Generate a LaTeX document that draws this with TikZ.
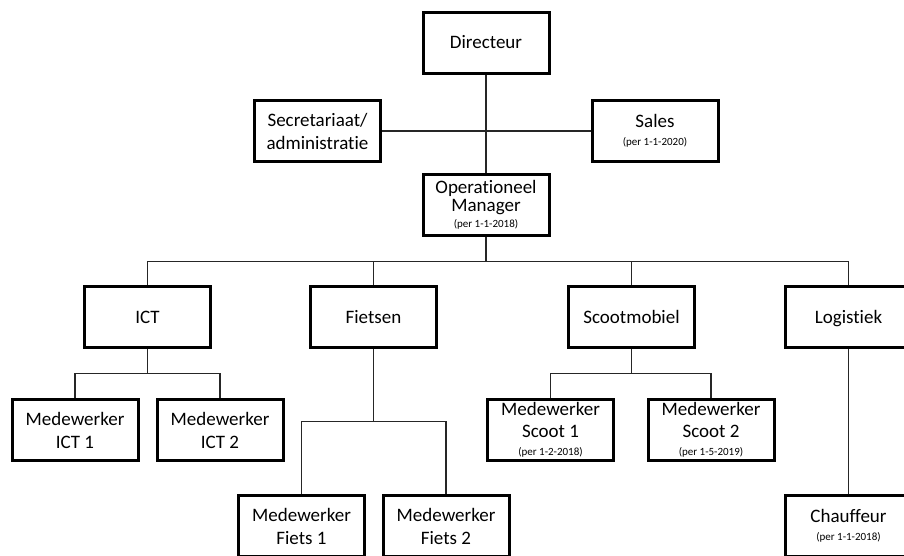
\documentclass[tikz,border=0pt]{standalone}
\usepackage{fontspec}
\setmainfont[Ligatures={NoCommon}]{Carlito}
\tikzstyle{unit}=[draw,line width=3pt,minimum width=126pt,minimum height=61pt,inner sep=0pt,align=center,font=\fontsize{19}{23}\selectfont]
\tikzstyle{connector}=[line width=1.2pt,black!85]
\newcommand{\since}[2][-5pt]{\\[#1]{\fontsize{11}{12}\selectfont (per #2)}} % start date under a function
\newcommand{\subtree}[4]{ % parent, drop to the bus, left child, right child
\draw[connector] (#1.south) -- ++(0,#2) coordinate (#1bus);
\draw[connector] (#3.north) |- (#1bus) -| (#4.north);
}
\begin{document}
\begin{tikzpicture}[x=1pt,y=-1pt]
	\useasboundingbox (0,0) rectangle (904,555);
	\clip (0,0) rectangle (904,555);
	% top
	\node[unit] (dir) at (486,42.5) {Directeur};
	\node[unit] (sec) at (317.5,131) {Secretariaat/\\administratie};
	\node[unit] (sales) at (655,131) {Sales\since{1-1-2020}};
	\node[unit] (om) at (486,204.5) {Operationeel\\[-5pt]Manager\since[-7pt]{1-1-2018}};
	\draw[connector] (sec.east) -- (sales.west);
	\draw[connector] (dir.south) -- (om.north);
	% departments
	\node[unit] (ict) at (147.5,317) {ICT};
	\node[unit] (fiets) at (373.5,317) {Fietsen};
	\node[unit] (scoot) at (631.5,317) {Scootmobiel};
	\node[unit,text depth=0pt] (log) at (848.5,317) {Logistiek};
	\draw[connector] (om.south) -- ++(0,25) coordinate (ombus);
	\draw[connector] (ict.north) |- (ombus) -| (log.north);
	\draw[connector] (fiets.north) -- (fiets.north |- ombus);
	\draw[connector] (scoot.north) -- (scoot.north |- ombus);
	% staff
	\node[unit] (mict1) at (75,430) {Medewerker\\ICT 1};
	\node[unit] (mict2) at (220,430) {Medewerker\\ICT 2};
	\node[unit] (mscoot1) at (550.5,430) {Medewerker\\[-1pt]Scoot 1\since{1-2-2018}};
	\node[unit] (mscoot2) at (711,430) {Medewerker\\[-1pt]Scoot 2\since{1-5-2019}};
	\node[unit] (mfiets1) at (301.5,526) {Medewerker\\Fiets 1};
	\node[unit] (mfiets2) at (446,526) {Medewerker\\Fiets 2};
	\node[unit] (chauf) at (848.5,526) {Chauffeur\since{1-1-2018}};
	\subtree{ict}{24.5}{mict1}{mict2}
	\subtree{fiets}{72.5}{mfiets1}{mfiets2}
	\subtree{scoot}{24.5}{mscoot1}{mscoot2}
	\draw[connector] (log.south) -- (chauf.north);
\end{tikzpicture}
\end{document}
